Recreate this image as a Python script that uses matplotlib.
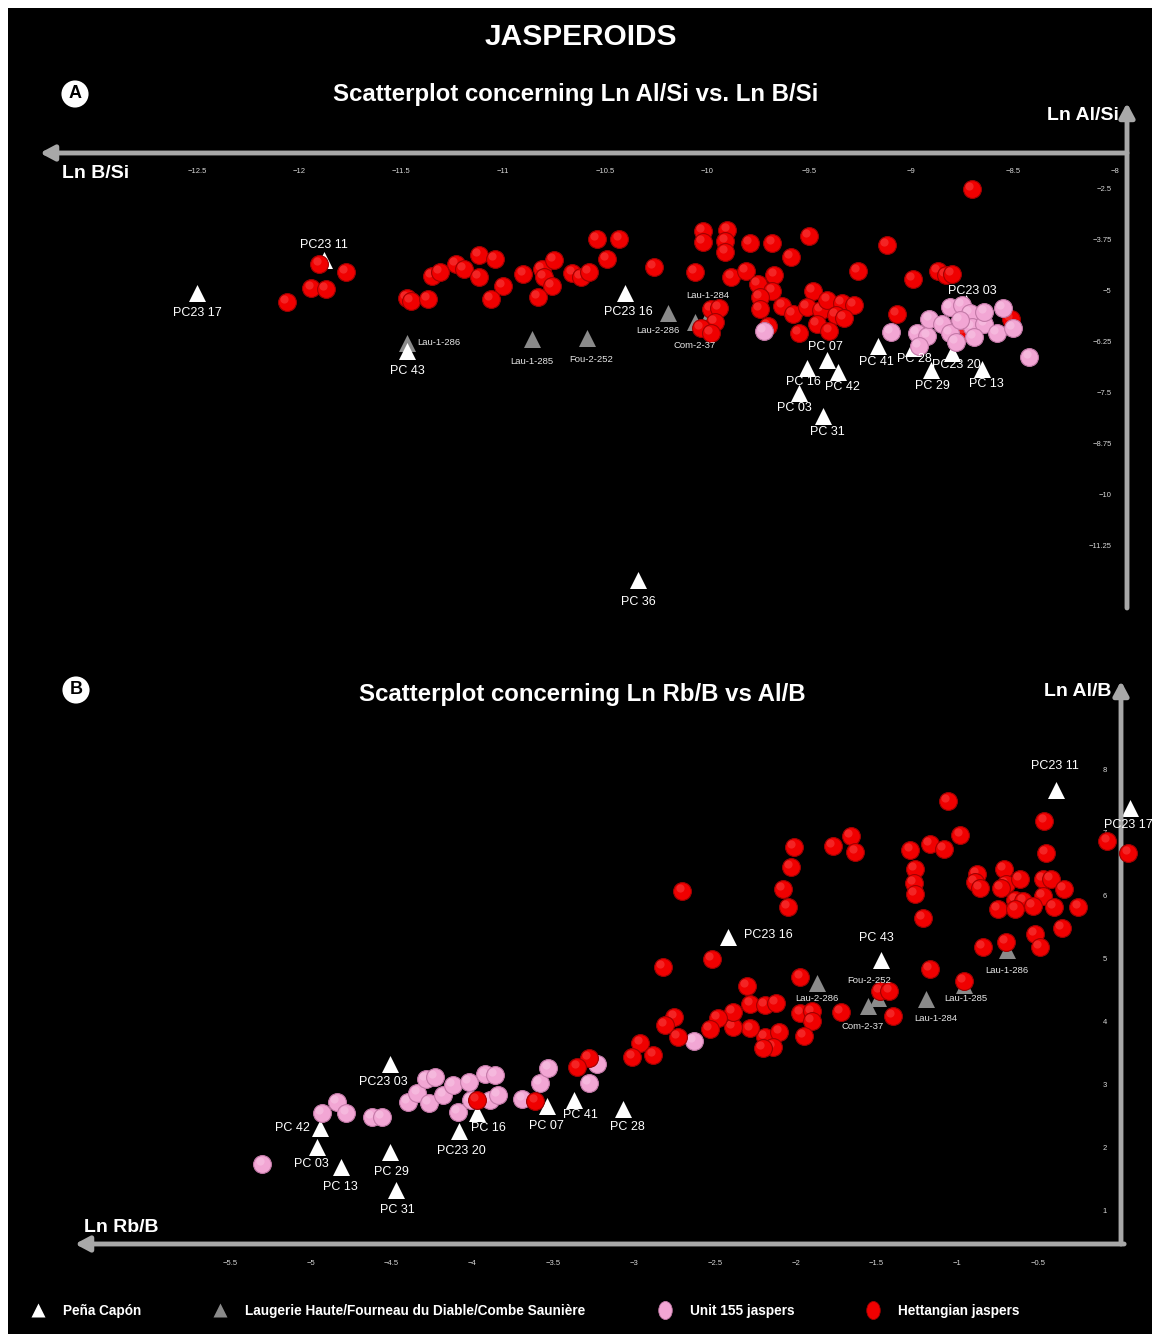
import matplotlib.pyplot as plt
from matplotlib.lines import Line2D
from matplotlib.markers import MarkerStyle
from matplotlib.patches import Rectangle
from matplotlib.ticker import FuncFormatter
from matplotlib.transforms import Affine2D, offset_copy

plt.rcParams['font.family'] = ['Liberation Sans', 'DejaVu Sans']

# ---------------- panel A: Ln B/Si (x) vs Ln Al/Si (y)
a_red_x = [-12.06, -11.94, -11.87, -11.90, -11.77, -11.47, -11.45, -11.37, -11.35, -11.31,
           -11.23, -11.19, -11.12, -11.04, -11.12, -11.00, -11.06, -10.90, -10.81, -10.75,
           -10.80, -10.76, -10.83, -10.66, -10.62, -10.58, -10.54, -10.43, -10.49, -10.26,
           -10.06, -10.02, -10.02, -9.90, -9.91, -9.91, -9.79, -9.68, -9.59, -9.50,
           -9.88, -9.81, -9.67, -9.75, -9.68, -9.74, -9.74, -9.48, -9.63, -9.58,
           -9.51, -9.44, -9.41, -9.34, -9.28, -9.37, -9.33, -9.46, -9.40, -9.55,
           -9.70, -9.98, -9.94, -9.96, -10.03, -9.98, -9.26, -9.12, -8.99, -8.87,
           -8.83, -8.80, -9.07, -8.70, -8.75, -8.51, -8.74]
a_red_y = [-5.29, -4.95, -4.98, -4.36, -4.56, -5.20, -5.27, -5.22, -4.66, -4.56,
           -4.36, -4.49, -4.14, -4.24, -4.68, -4.90, -5.22, -4.61, -4.49, -4.26,
           -4.68, -4.90, -5.17, -4.58, -4.68, -4.56, -3.75, -3.75, -4.24, -4.44,
           -4.56, -3.55, -3.82, -3.53, -3.80, -4.07, -3.85, -3.85, -4.19, -3.68,
           -4.68, -4.53, -4.63, -4.85, -5.02, -5.17, -5.47, -5.02, -5.39, -5.59,
           -5.42, -5.49, -5.25, -5.32, -5.37, -5.61, -5.69, -5.83, -6.00, -6.05,
           -5.88, -5.47, -5.44, -5.78, -5.93, -6.05, -4.53, -3.90, -4.73, -4.53,
           -4.63, -4.61, -5.59, -2.52, -5.56, -5.71, -6.03]

a_pink_x = [-9.72, -9.10, -8.97, -8.92, -8.96, -8.91, -8.85, -8.81, -8.75, -8.71,
            -8.81, -8.78, -8.70, -8.64, -8.69, -8.58, -8.55, -8.50, -8.42, -8.76, -8.64]
a_pink_y = [-6.00, -6.03, -6.05, -6.13, -6.37, -5.71, -5.83, -5.42, -5.37, -5.56,
            -6.05, -6.27, -5.91, -5.83, -6.15, -6.05, -5.44, -5.93, -6.64, -5.74, -5.54]

a_pc_names = ['PC23 17', 'PC23 11', 'PC 43', 'PC23 16', 'PC 07', 'PC 16', 'PC 42', 'PC 03',
              'PC 31', 'PC 41', 'PC 28', 'PC23 20', 'PC 29', 'PC 13', 'PC23 03', 'PC 36']
a_pc_x = [-12.50, -11.88, -11.47, -10.40, -9.41, -9.51, -9.36, -9.55,
          -9.43, -9.16, -8.99, -8.80, -8.90, -8.65, -8.73, -10.34]
a_pc_y = [-5.07, -4.26, -6.50, -5.07, -6.72, -6.91, -7.01, -7.52,
          -8.09, -6.37, -6.42, -6.54, -6.96, -6.94, -5.32, -12.11]

a_lh_names = ['Lau-1-286', 'Lau-1-285', 'Fou-2-252', 'Lau-2-286', 'Com-2-37', 'Lau-1-284']
a_lh_x = [-11.47, -10.86, -10.59, -10.19, -10.06, -10.00]
a_lh_y = [-6.30, -6.20, -6.18, -5.56, -5.78, -5.69]

a_xticks = [-12.5, -12, -11.5, -11, -10.5, -10, -9.5, -9, -8.5, -8]
a_yticks = [-2.5, -3.75, -5, -6.25, -7.5, -8.75, -10, -11.25]

# ---------------- panel B: Ln Rb/B (x) vs Ln Al/B (y)
b_red_x = [-2.70, -2.01, -2.03, -2.08, -2.05, -1.77, -1.66, -1.63, -1.29, -1.17,
           -1.08, -0.98, -1.06, -1.26, -1.27, -1.26, -1.21, -0.46, -0.45, -0.07,
           0.06, -0.88, -0.89, -0.86, -0.71, -0.70, -0.73, -0.61, -0.47, -0.42,
           -0.34, -0.64, -0.59, -0.47, -0.75, -0.64, -0.53, -0.40, -0.25, -0.52,
           -0.35, -0.49, -0.70, -0.84, -2.82, -2.52, -1.17, -0.96, -1.97, -2.30,
           -1.48, -1.42, -2.28, -2.19, -2.12, -1.97, -1.90, -1.90, -1.72, -1.40,
           -1.95, -2.19, -2.10, -2.14, -2.20, -2.28, -2.39, -2.39, -2.48, -2.53,
           -2.75, -2.81, -2.73, -2.96, -3.01, -2.88, -3.28, -3.35, -3.97, -3.61]
b_red_y = [6.08, 6.78, 6.46, 6.11, 5.83, 6.79, 6.95, 6.70, 6.73, 6.83,
           6.75, 6.97, 7.51, 6.43, 6.21, 6.03, 5.65, 7.19, 6.68, 6.87,
           6.68, 6.35, 6.22, 6.13, 6.43, 6.19, 6.13, 6.27, 6.27, 6.27,
           6.11, 5.94, 5.92, 6.00, 5.79, 5.79, 5.84, 5.83, 5.83, 5.40,
           5.49, 5.19, 5.27, 5.19, 4.87, 5.00, 4.84, 4.65, 4.71, 4.57,
           4.49, 4.49, 4.29, 4.27, 4.30, 4.14, 4.17, 4.02, 4.16, 4.10,
           3.78, 3.76, 3.84, 3.60, 3.59, 3.90, 3.92, 4.16, 4.06, 3.89,
           4.08, 3.95, 3.76, 3.67, 3.44, 3.48, 3.43, 3.29, 2.76, 2.75]

b_pink_x = [-5.30, -4.93, -4.84, -4.78, -4.62, -4.56, -4.40, -4.34, -4.27, -4.29,
            -4.23, -4.18, -4.12, -4.02, -3.92, -3.86, -4.09, -4.01, -3.89, -3.84,
            -3.69, -3.58, -3.53, -3.28, -3.23, -2.63]
b_pink_y = [1.75, 2.56, 2.73, 2.56, 2.49, 2.49, 2.73, 2.87, 2.71, 3.10,
            3.13, 2.84, 3.00, 3.05, 3.17, 3.16, 2.57, 2.76, 2.76, 2.84,
            2.78, 3.03, 3.27, 3.03, 3.33, 3.70]

b_pc_names = ['PC23 11', 'PC23 17', 'PC23 16', 'PC 43', 'PC23 03', 'PC 42', 'PC 03', 'PC 13',
              'PC 29', 'PC 31', 'PC23 20', 'PC 16', 'PC 07', 'PC 41', 'PC 28']
b_pc_x = [-0.39, 0.07, -2.42, -1.47, -4.51, -4.94, -4.96, -4.81,
          -4.51, -4.47, -4.08, -3.97, -3.54, -3.37, -3.07]
b_pc_y = [7.68, 7.40, 5.35, 4.98, 3.33, 2.32, 2.02, 1.70,
          1.94, 1.33, 2.27, 2.56, 2.67, 2.76, 2.62]

b_lh_names = ['Lau-2-286', 'Fou-2-252', 'Com-2-37', 'Lau-1-284', 'Lau-1-285', 'Lau-1-286']
b_lh_x = [-1.87, -1.49, -1.55, -1.19, -0.96, -0.69]
b_lh_y = [4.62, 4.38, 4.25, 4.37, 4.59, 5.14]

b_xticks = [-5.5, -5, -4.5, -4, -3.5, -3, -2.5, -2, -1.5, -1, -0.5]
b_yticks = [1, 2, 3, 4, 5, 6, 7, 8]

legend_labels = ['Peña Capón', 'Laugerie Haute/Fourneau du Diable/Combe Saunière',
                 'Unit 155 jaspers', 'Hettangian jaspers']

# label offsets in pixels (dx right, dy down) - layout only
a_pc_off = [(0, 20), (0, -15), (0, 20), (3, 19), (-2, -13), (-4, 14), (5, 15), (-4, 15),
            (4, 16), (-2, 16), (1, 11), (5, 12), (1, 16), (4, 15), (6, -12), (1, 22)]
a_lh_off = [(32, -1), (0, 23), (5, 21), (-10, 18), (0, 24), (1, -23)]
b_pc_off = [(-1, -24), (-2, 17), (41, -2), (-5, -22), (-7, 18), (-28, 0), (-6, 17), (-1, 20),
            (1, 20), (1, 20), (2, 20), (11, 15), (0, 20), (6, 15), (5, 18)]
b_lh_off = [(0, 16), (-9, -18), (-6, 20), (9, 20), (2, 14), (0, 20)]

W, H = 1152, 1334
fig = plt.figure(figsize=(W / 100, H / 100), dpi=100)
fig.patch.set_facecolor('white')
fig.add_artist(Rectangle((8 / W, 0), 1 - 8 / W, 1 - 8 / H, transform=fig.transFigure,
                         facecolor='black', edgecolor='none', zorder=0))

AXIS_GREY = '#a8a8a8'
TRI_GREY = '#8a8a8a'
RED = ('#f00000', '#a00000', '#ff7a7a')
PINK = ('#f2a6d4', '#c47aa8', '#ffe2f3')


def px_axes(x0, y0, x1, y1):
    ax = fig.add_axes([x0 / W, 1 - y1 / H, (x1 - x0) / W, (y1 - y0) / H])
    ax.set_facecolor('none')
    for sp in ax.spines.values():
        sp.set_visible(False)
    return ax


def arrow(ax, start, end):
    ax.annotate('', xy=end, xytext=start, xycoords='axes fraction', textcoords='axes fraction',
                arrowprops=dict(arrowstyle='-|>,head_length=0.6,head_width=0.32', color=AXIS_GREY,
                                lw=3.5, mutation_scale=14, shrinkA=0, shrinkB=0),
                annotation_clip=False)


def spheres(ax, xs, ys, colors, z):
    base, edge, shine = colors
    glint = offset_copy(ax.transData, fig=fig, x=-2.0, y=2.0, units='points')
    for i, (x, y) in enumerate(zip(xs, ys)):
        zz = z + i * 0.002
        ax.scatter([x], [y], s=165, c=base, edgecolors=edge, linewidths=0.8, zorder=zz, clip_on=False)
        ax.scatter([x], [y], s=35, c=shine, alpha=0.3, linewidths=0, zorder=zz + 0.001,
                   transform=glint, clip_on=False)


def triangles(ax, xs, ys, names, offs, color, tsize, tcolor, z):
    ax.scatter(xs, ys, marker='^', s=150, c=color, linewidths=0, zorder=z, clip_on=False)
    for x, y, name, (dx, dy) in zip(xs, ys, names, offs):
        ax.annotate(name, (x, y), xytext=(dx * 0.72, -dy * 0.72), textcoords='offset points',
                    ha='center', va='center', fontsize=tsize, color=tcolor, zorder=9,
                    annotation_clip=False)


tick_fmt = FuncFormatter(lambda v, p: f'{v:g}'.replace('-', '\u2212'))


def style_ticks(ax, xticks, yticks, xtop, xpad, ypad):
    ax.set_xticks(xticks)
    ax.set_yticks(yticks)
    ax.xaxis.set_major_formatter(tick_fmt)
    ax.yaxis.set_major_formatter(tick_fmt)
    ax.tick_params(axis='x', length=0, bottom=False, top=False, labelbottom=not xtop,
                   labeltop=xtop, pad=xpad, labelsize=5.5, labelcolor='#d8d8d8')
    ax.tick_params(axis='y', length=0, left=False, right=False, labelleft=False,
                   labelright=True, pad=ypad, labelsize=5.5, labelcolor='#d8d8d8')
    for t in ax.yaxis.get_major_ticks():
        t.label2.set_horizontalalignment('right')


# ---------------- panel A
axA = px_axes(40, 153, 1127, 608)
axA.set_xlim(-13.270, -7.941)
axA.set_ylim(-12.794, -1.642)
style_ticks(axA, a_xticks, a_yticks, True, -16, -11)
arrow(axA, (1.0, 1.0), (0.0, 1.0))
arrow(axA, (1.0, 0.0), (1.0, 1.11))
triangles(axA, a_lh_x, a_lh_y, a_lh_names, a_lh_off, TRI_GREY, 6.8, '#e6e6e6', 2)
triangles(axA, a_pc_x, a_pc_y, a_pc_names, a_pc_off, 'white', 9, 'white', 2.5)
spheres(axA, a_red_x, a_red_y, RED, 3)
spheres(axA, a_pink_x, a_pink_y, PINK, 4)

# ---------------- panel B
axB = px_axes(75, 700, 1121, 1244)
axB.set_xlim(-6.459, 0.0136)
axB.set_ylim(0.476, 9.111)
style_ticks(axB, b_xticks, b_yticks, False, 11.5, -10)
arrow(axB, (1.003, 0.0), (0.0, 0.0))
arrow(axB, (1.0, 0.0), (1.0, 1.035))
triangles(axB, b_lh_x, b_lh_y, b_lh_names, b_lh_off, TRI_GREY, 6.8, '#e6e6e6', 2)
triangles(axB, b_pc_x, b_pc_y, b_pc_names, b_pc_off, 'white', 9, 'white', 2.5)
spheres(axB, b_pink_x, b_pink_y, PINK, 3)
spheres(axB, b_red_x, b_red_y, RED, 4)

# ---------------- titles and axis names
def ftext(x, y, s, **kw):
    fig.text(x / W, 1 - y / H, s, color='white', **kw)


ftext(581, 37, 'JASPEROIDS', ha='center', va='center', fontsize=21.5, fontweight='bold')
ftext(576, 94, 'Scatterplot concerning Ln Al/Si vs. Ln B/Si', ha='center', va='center',
      fontsize=17.3, fontweight='bold')
ftext(582, 694, 'Scatterplot concerning Ln Rb/B vs Al/B', ha='center', va='center',
      fontsize=17.3, fontweight='bold')
ftext(1119, 116, 'Ln Al/Si', ha='right', va='center', fontsize=14, fontweight='bold')
ftext(62, 173, 'Ln B/Si', ha='left', va='center', fontsize=14, fontweight='bold')
ftext(1111, 692, 'Ln Al/B', ha='right', va='center', fontsize=14, fontweight='bold')
ftext(84, 1227, 'Ln Rb/B', ha='left', va='center', fontsize=14, fontweight='bold')

for letter, (lx, ly) in zip(['A', 'B'], [(75, 94), (76, 690)]):
    fig.text(lx / W, 1 - ly / H, letter, ha='center', va='center', fontsize=13,
             fontweight='bold', color='black',
             bbox=dict(boxstyle='circle,pad=0.28', facecolor='white', edgecolor='none'))

# ---------------- legend
oval = MarkerStyle('o', transform=Affine2D().scale(0.75, 1.0))
handles = [
    Line2D([], [], ls='none', marker='^', ms=10, mfc='white', mec='none'),
    Line2D([], [], ls='none', marker='^', ms=10, mfc=TRI_GREY, mec='none'),
    Line2D([], [], ls='none', marker=oval, ms=13, mfc=PINK[0], mec=PINK[1], mew=0.6),
    Line2D([], [], ls='none', marker=oval, ms=13, mfc=RED[0], mec=RED[1], mew=0.6),
]
fig.legend(handles, legend_labels, loc='center left', bbox_to_anchor=(31 / W, 1 - 1311 / H),
           ncol=4, frameon=False, handlelength=1.0, handletextpad=1.35, columnspacing=5.3,
           prop=dict(weight='bold', size=9.8), labelcolor='white', borderaxespad=0,
           borderpad=0)

fig.savefig('out.png', dpi=100, facecolor=fig.get_facecolor())
